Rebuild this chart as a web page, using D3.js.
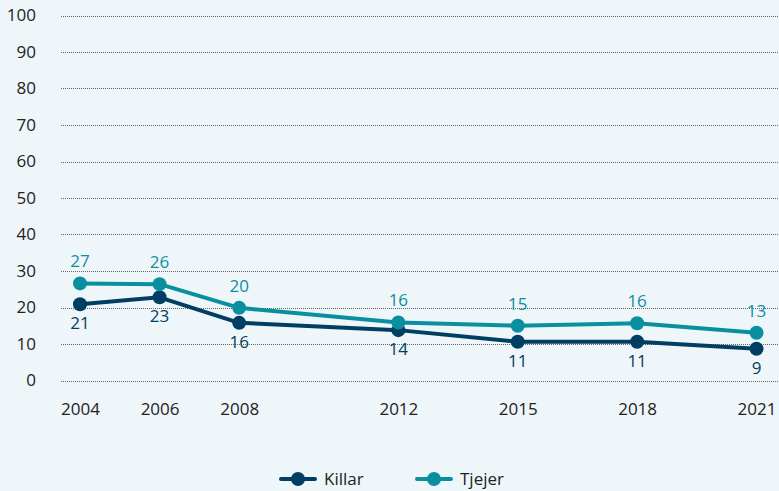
<!DOCTYPE html>
<html><head><meta charset="utf-8">
<script src="https://cdn.jsdelivr.net/npm/d3@7"></script>
<style>
html,body{margin:0;padding:0;background:#eff6f9;}
svg{display:block;font-family:"Open Sans","Noto Sans",sans-serif;}
</style></head>
<body><svg id="c" width="779" height="491"></svg>
<script>
const years = [2004, 2006, 2008, 2012, 2015, 2018, 2021];
const killar = [20.9, 22.8, 15.8, 13.8, 10.6, 10.6, 8.7];
const tjejer = [26.6, 26.4, 19.9, 15.9, 15.0, 15.7, 13.1];
const yTicks = [0, 10, 20, 30, 40, 50, 60, 70, 80, 90, 100];
const seriesNames = ["Killar", "Tjejer"];
const colors = ["#003f63", "#0a8fa0"];
const FS = 17;

const svg = d3.select("#c");
const x = d3.scaleLinear().domain([2004, 2021]).range([80, 756.5]);
const y = d3.scaleLinear().domain([0, 100]).range([380.5, 15.5]);

// gridlines + y labels
const yAxis = d3.axisLeft(y).tickValues(yTicks).tickSize(0).tickPadding(0);
const gy = svg.append("g").attr("transform", "translate(36,0)").call(yAxis);
gy.select(".domain").remove();
gy.selectAll("text").attr("font-size", FS).attr("fill", "#222").attr("font-family", "Open Sans");
svg.append("g").selectAll("line").data(yTicks).join("line")
  .attr("x1", 61).attr("x2", 779)
  .attr("y1", d => Math.round(y(d)) + 0.5).attr("y2", d => Math.round(y(d)) + 0.5)
  .attr("stroke", "#666").attr("stroke-width", 1).attr("stroke-dasharray", "1,1");

// x labels
const xAxis = d3.axisBottom(x).tickValues(years).tickFormat(d3.format("d")).tickSize(0).tickPadding(0);
const gx = svg.append("g").attr("transform", "translate(0,403)").call(xAxis);
gx.select(".domain").remove();
gx.selectAll("text").attr("font-size", FS).attr("fill", "#222").attr("font-family", "Open Sans");

const series = [killar, tjejer];
const line = d3.line().x((d, i) => x(years[i])).y(d => y(d));
series.forEach((vals, s) => {
  const g = svg.append("g");
  g.append("path").datum(vals).attr("d", line).attr("fill", "none")
    .attr("stroke", colors[s]).attr("stroke-width", 4).attr("stroke-linejoin", "round");
  g.selectAll("circle").data(vals).join("circle")
    .attr("cx", (d, i) => x(years[i])).attr("cy", d => y(d)).attr("r", 7).attr("fill", colors[s]);
  g.selectAll("text").data(vals).join("text")
    .attr("x", (d, i) => x(years[i]))
    .attr("y", d => s === 0 ? y(d) + 25 : y(d) - 16)
    .attr("text-anchor", "middle").attr("font-size", FS).attr("fill", colors[s])
    .text(d => Math.round(d));
});

// legend
const legX = [281, 417];
seriesNames.forEach((n, s) => {
  const g = svg.append("g").attr("transform", `translate(${legX[s]},479)`);
  g.append("line").attr("x1", 0).attr("x2", 34).attr("stroke", colors[s]).attr("stroke-width", 4).attr("stroke-linecap", "round");
  g.append("circle").attr("cx", 17).attr("r", 7).attr("fill", colors[s]);
  g.append("text").attr("x", 43).attr("y", 6).attr("font-size", FS).attr("fill", "#222").text(n);
});
</script></body></html>
